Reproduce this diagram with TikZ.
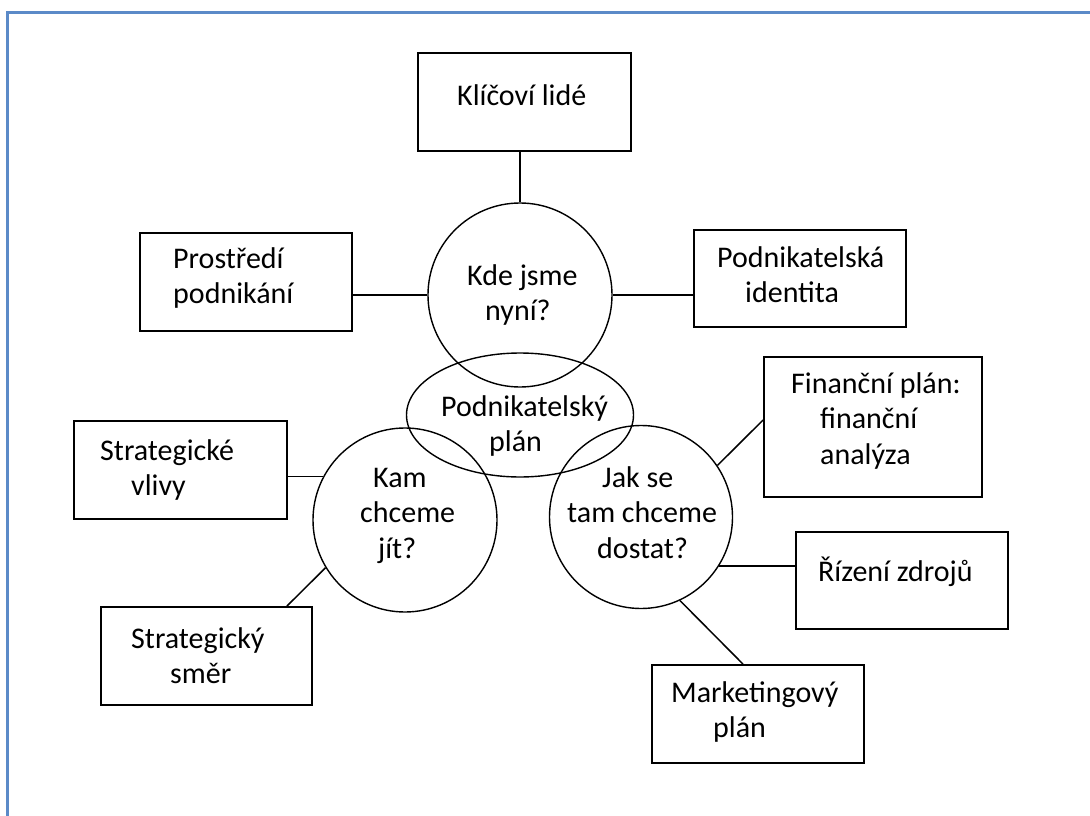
\documentclass[tikz,border=0pt]{standalone}
\usepackage{fontspec}
\setmainfont{Carlito}
\usetikzlibrary{shapes.geometric}
\definecolor{frameblue}{RGB}{91,138,200}
\newcommand{\ml}[1]{\vtop{\halign{##\hfil\cr#1\crcr}}}
\begin{document}
\begin{tikzpicture}[x=1pt,y=-1pt,
  box/.style={draw,line width=1.8pt,rectangle,inner sep=0pt},
  ring/.style={draw,line width=1.4pt,circle,inner sep=0pt},
  lbl/.style={anchor=base west,inner sep=0pt,font=\fontsize{30}{35.5}\selectfont},
  link/.style={line width=1.5pt}]
\useasboundingbox (0,0) rectangle (1090,816);
\draw[frameblue,line width=2.5pt] (7.5,816) -- (7.5,12.5) -- (1090,12.5);

% boxes
\node[box,minimum width=213pt,minimum height=98pt] (kl) at (524.5,102) {};
\node[box,minimum width=212pt,minimum height=98pt] (pb) at (246,282) {};
\node[box,minimum width=212pt,minimum height=97pt] (pi) at (800,278.5) {};
\node[box,minimum width=213pt,minimum height=98pt] (sv) at (180.5,470) {};
\node[box,minimum width=211pt,minimum height=98pt] (ss) at (206.5,656) {};
\node[box,minimum width=218pt,minimum height=140pt] (fp) at (873,427) {};
\node[box,minimum width=212pt,minimum height=97pt] (rz) at (902,580.5) {};
\node[box,minimum width=212pt,minimum height=98pt] (mp) at (758,714) {};

% circles and ellipse
\node[ring,minimum size=184pt] (kde) at (520,295) {};
\node[ring,minimum size=184pt] (kam) at (405,520) {};
\node[ring,minimum size=183pt] (jak) at (641,517) {};
\node[draw,line width=1.4pt,ellipse,inner sep=0pt,minimum width=227pt,minimum height=124pt] (pl) at (520,415) {};

% labels
\node[lbl] (tkl) at (457,105) {\ml{Klíčoví lidé}};
\node[lbl] (tpb) at (173,268) {\ml{Prostředí\cr podnikání}};
\node[lbl] (tpi) at (717,267) {\ml{Podnikatelská\cr \hskip28pt identita}};
\node[lbl] (tkde) at (467,285) {\ml{Kde jsme\cr \hskip18pt nyní?}};
\node[lbl] (tpl) at (441,416) {\ml{Podnikatelský\cr \hskip48pt plán}};
\node[lbl] (tkam) at (360,487) {\ml{\hskip13pt Kam\cr chceme\cr \hskip18pt jít?}};
\node[lbl] (tjak) at (567,487) {\ml{\hskip35pt Jak se\cr tam chceme\cr \hskip30pt dostat?}};
\node[lbl] (tsv) at (100,460) {\ml{Strategické\cr \hskip31pt vlivy}};
\node[lbl] (tss) at (131,648) {\ml{Strategický\cr \hskip39pt směr}};
\node[lbl] (tfp) at (791,393) {\ml{Finanční plán:\cr \hskip29pt finanční\cr \hskip29pt analýza}};
\node[lbl] (trz) at (818,581) {\ml{Řízení zdrojů}};
\node[lbl] (tmp) at (671,702) {\ml{Marketingový\cr \hskip42pt plán}};

% connectors
\draw[link] (kde.north) -- (kde.north |- kl.south);
\draw[link] (kde.west) -- (kde.west -| pb.east);
\draw[link] (kde.east) -- (kde.east -| pi.west);
\draw[link] (kam.152) -- (kam.152 -| sv.east);
\draw[link] (kam.211) -- ([xshift=-26pt]ss.north east);
\draw[link] (jak.34) -- ([yshift=7pt]fp.west);
\draw[link] (jak.-32) -- (jak.-32 -| rz.west);
\draw[link] (jak.-65) -- ([xshift=-15pt]mp.north);
\end{tikzpicture}
\end{document}
